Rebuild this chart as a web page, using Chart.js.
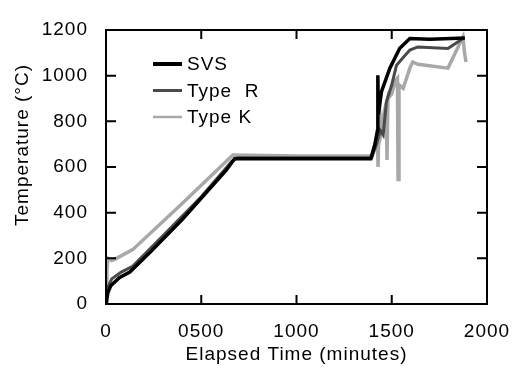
<!DOCTYPE html>
<html lang="en">
<head>
  <meta charset="UTF-8">
  <title>Temperature vs elapsed time</title>
  <script src="https://cdn.jsdelivr.net/npm/chart.js"></script>
  <style>
    html, body { margin: 0; padding: 0; background: #fff; }
    #wrap { width: 512px; height: 368px; }
  </style>
</head>
<body>
<div id="wrap"><canvas id="chart"></canvas></div>
<script>
  // series (time in minutes, temperature in degC)
  const seriesNames = ['SVS', 'Type  R', 'Type K'];
  const seriesColors = ['#000000', '#4a4a4a', '#a8a8a8'];

  const svsTime = [0, 10, 25, 70, 125, 230, 400, 630, 675, 1000, 1390, 1411, 1425, 1427, 1430, 1446, 1490, 1542, 1595, 1700, 1884];
  const svsTemp = [0, 50, 80, 115, 140, 225, 370, 585, 636, 636, 636, 697, 760, 1002, 830, 930, 1033, 1120, 1163, 1160, 1165];

  const rTime = [0, 8, 30, 80, 140, 300, 500, 660, 690, 1000, 1395, 1420, 1440, 1455, 1472, 1500, 1525, 1560, 1595, 1637, 1795, 1874];
  const rTemp = [0, 70, 110, 140, 165, 300, 470, 625, 640, 640, 640, 700, 760, 740, 886, 960, 1046, 1080, 1112, 1126, 1119, 1163];

  const kTime = [0, 5, 10, 30, 55, 140, 400, 666, 1000, 1395, 1410, 1425, 1428, 1435, 1445, 1460, 1472, 1475, 1480, 1500, 1520, 1530, 1533, 1538, 1560, 1595, 1610, 1637, 1795, 1874, 1882, 1890];
  const kTemp = [0, 150, 200, 190, 200, 238, 440, 653, 648, 648, 690, 740, 600, 862, 760, 840, 880, 631, 900, 920, 980, 990, 545, 960, 945, 1033, 1060, 1050, 1033, 1170, 1100, 1060];

  const xTickValues = [0, 500, 1000, 1500, 2000];
  const xTickLabels = ['0', '0500', '1000', '1500', '2000'];
  const yTickValues = [0, 200, 400, 600, 800, 1000, 1200];

  const xTitle = 'Elapsed Time (minutes)';
  const yTitle = 'Temperature (\u00B0C)';

  const fontFamily = '"Liberation Sans", Arial, sans-serif';
  const toPoints = (ts, vs) => ts.map((t, i) => ({x: t, y: vs[i]}));

  const framePlugin = {
    id: 'frame',
    beforeLayout(chart) { chart.ctx.letterSpacing = '1px'; },
    beforeDraw(chart) { chart.ctx.letterSpacing = '1px'; },
    afterDatasetsDraw(chart) {
      const ctx = chart.ctx;
      const a = chart.chartArea;
      const x = chart.scales.x, y = chart.scales.y;
      ctx.save();
      ctx.strokeStyle = '#000';
      ctx.lineWidth = 2;
      ctx.strokeRect(a.left, a.top, a.right - a.left, a.bottom - a.top);

      // inward tick marks on all four sides
      ctx.beginPath();
      xTickValues.slice(1, -1).forEach(v => {
        const px = x.getPixelForValue(v);
        ctx.moveTo(px, a.bottom); ctx.lineTo(px, a.bottom - 9);
        ctx.moveTo(px, a.top); ctx.lineTo(px, a.top + 9);
      });
      yTickValues.slice(1, -1).forEach(v => {
        const py = y.getPixelForValue(v);
        ctx.moveTo(a.left, py); ctx.lineTo(a.left + 10, py);
        ctx.moveTo(a.right, py); ctx.lineTo(a.right - 10, py);
      });
      ctx.stroke();

      // legend inside the plot
      ctx.font = '19px ' + fontFamily;
      ctx.letterSpacing = '1px';
      ctx.fillStyle = '#000';
      ctx.textBaseline = 'middle';
      ctx.textAlign = 'left';
      const widths = [4, 3, 2.5];
      chart.data.datasets.forEach((ds, i) => {
        const ly = 64 + i * 26.5;
        ctx.strokeStyle = ds.borderColor;
        ctx.lineWidth = widths[i];
        ctx.beginPath();
        ctx.moveTo(153, ly); ctx.lineTo(182, ly);
        ctx.stroke();
        ctx.fillText(ds.label, 187, ly + 1);
      });

      // y axis title, sits a little above the axis centre in the original
      ctx.translate(23, 145);
      ctx.rotate(-Math.PI / 2);
      ctx.textAlign = 'center';
      ctx.fillText(yTitle, 0, 0);
      ctx.restore();
    }
  };

  const ctx = document.getElementById('chart').getContext('2d');
  const myChart = new Chart(ctx, {
    type: 'line',
    data: {
      datasets: [
        {label: seriesNames[0], data: toPoints(svsTime, svsTemp), borderColor: seriesColors[0], borderWidth: 3.5},
        {label: seriesNames[1], data: toPoints(rTime, rTemp), borderColor: seriesColors[1], borderWidth: 3},
        {label: seriesNames[2], data: toPoints(kTime, kTemp), borderColor: seriesColors[2], borderWidth: 3.5}
      ]
    },
    options: {
      responsive: true,
      maintainAspectRatio: false,
      animation: false,
      elements: {point: {radius: 0}, line: {tension: 0, fill: false}},
      layout: {padding: {top: 30, right: 25, left: 0, bottom: 0}},
      plugins: {legend: {display: false}, tooltip: {enabled: false}},
      scales: {
        x: {
          type: 'linear', min: 0, max: 2000,
          grid: {display: false}, border: {display: false},
          afterBuildTicks: s => { s.ticks = xTickValues.map(v => ({value: v})); },
          afterFit: s => { s.height = 64; s.paddingLeft = 0; s.paddingRight = 0; },
          ticks: {
            color: '#000', padding: 8, maxRotation: 0,
            font: {family: fontFamily, size: 19},
            callback: (v, i) => xTickLabels[i]
          },
          title: {
            display: true, text: xTitle, color: '#000', padding: {top: 0, bottom: 2},
            font: {family: fontFamily, size: 19}
          }
        },
        y: {
          min: 0, max: 1200,
          grid: {display: false}, border: {display: false},
          afterBuildTicks: s => { s.ticks = yTickValues.map(v => ({value: v})); },
          afterFit: s => { s.width = 106; s.paddingTop = 0; s.paddingBottom = 0; },
          ticks: {
            color: '#000', padding: 10,
            font: {family: fontFamily, size: 19},
            callback: v => String(v)
          }
        }
      }
    },
    plugins: [framePlugin]
  });
</script>
</body>
</html>
